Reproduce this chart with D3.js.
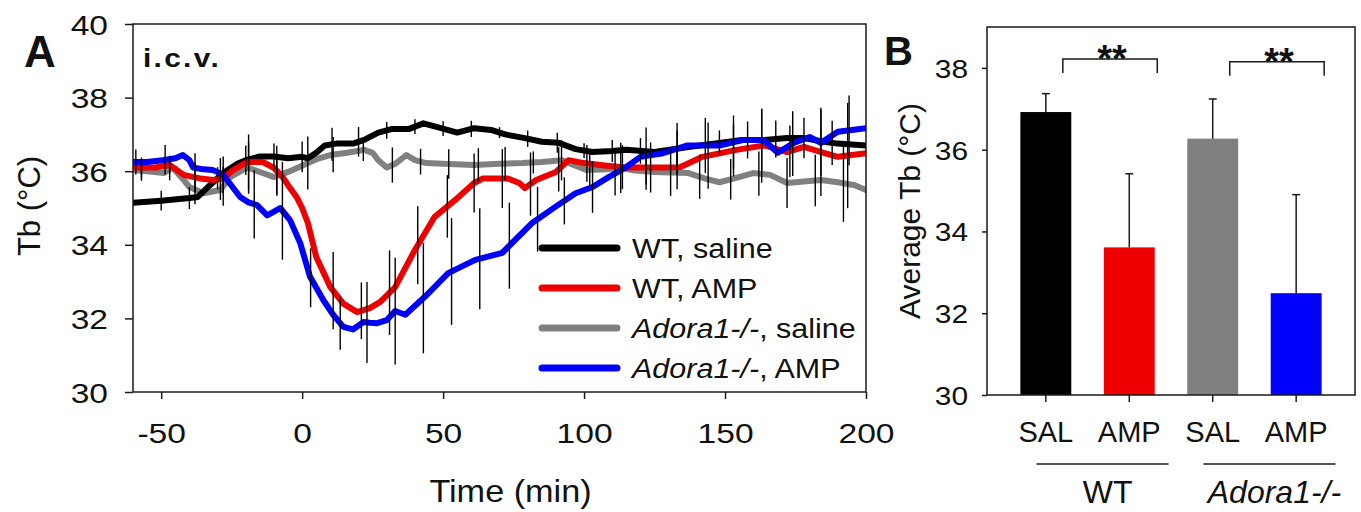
<!DOCTYPE html>
<html>
<head>
<meta charset="utf-8">
<script src="https://cdn.jsdelivr.net/npm/d3@7"></script>
<style>
  body { margin: 0; background: #fff; }
  svg text { font-family: "Liberation Sans", Arial, Helvetica, sans-serif; fill: #111; }
</style>
</head>
<body>
<svg id="fig" width="1361" height="512"></svg>
<script>

// Panel A: body temperature time course, [time (min), Tb (degC)]
var wt_saline = [[-60,35.14],[-50,35.2],[-40,35.27],[-37,35.3],[-33,35.6],[-28,35.95],[-23,36.2],[-20,36.3],
  [-15,36.4],[-10,36.4],[-5,36.35],[0,36.39],[2,36.35],[5,36.5],[8,36.7],[12,36.75],[18,36.75],[22,36.85],
  [27,37.05],[32,37.15],[38,37.15],[43,37.3],[48,37.2],[55,37.05],[61,37.17],[67,37.12],[72,37.0],[79,36.9],
  [85,36.8],[91,36.77],[97,36.6],[103,36.52],[110,36.55],[115,36.58],[125,36.52],[137,36.66],[148,36.77],
  [156,36.85],[164,36.85],[172,36.9],[178,36.9],[185,36.8],[190,36.75],[200,36.7]];

var wt_amp = [[-60,36.1],[-52,36.1],[-47,36.17],[-42,35.9],[-36,35.8],[-31.6,35.76],[-28,35.8],[-24.5,36.03],
  [-19.5,36.25],[-14,36.25],[-10,36.09],[-7,35.85],[-5,35.62],[-2,35.3],[0,35.0],[2,34.6],[5,33.67],[10,32.85],
  [14.6,32.4],[19.5,32.17],[24,32.28],[27.7,32.45],[33,32.85],[40,33.86],[47,34.76],[54,35.2],[61,35.68],
  [64,35.8],[73,35.8],[77,35.68],[79,35.54],[83,35.76],[90,35.98],[94.5,36.3],[100,36.22],[108,36.15],
  [115,36.1],[125,36.1],[134,36.11],[142,36.39],[154,36.58],[164,36.7],[172,36.52],[178,36.66],[185,36.5],
  [190,36.39],[200,36.49]];

var ko_saline = [[-60,36.03],[-55,36.0],[-49,35.95],[-46,36.1],[-43,35.85],[-40,35.57],[-35,35.4],[-29,35.49],
  [-25.6,35.84],[-19.5,36.1],[-14,35.95],[-10,35.84],[-5,35.98],[0,36.15],[2,36.22],[6,36.35],[10,36.44],
  [16,36.5],[22,36.58],[25,36.5],[27,36.3],[30,36.1],[33,36.2],[37,36.44],[40,36.3],[44,36.22],[50,36.2],
  [61,36.17],[70,36.2],[78,36.22],[85,36.25],[92,36.3],[97,36.15],[101,36.03],[108,36.05],[113,36.09],
  [118,36.02],[125,35.98],[137,35.95],[143,35.8],[148,35.7],[153,35.8],[160,35.95],[166,35.9],[172,35.68],
  [178,35.72],[184,35.76],[190,35.7],[196,35.62],[200,35.49]];

var ko_amp = [[-60,36.25],[-55,36.25],[-49.4,36.3],[-45,36.35],[-42.3,36.44],[-40,36.3],[-38.7,36.1],[-35,36.05],
  [-31.6,36.03],[-28,35.9],[-26.6,35.76],[-22,35.3],[-19,35.15],[-16,35.08],[-12.4,34.8],[-10,34.9],[-7.8,35.0],
  [-4.3,34.67],[-0.7,34.05],[2.8,33.13],[7.5,32.5],[11,32.1],[14.6,31.77],[18,31.7],[21.7,31.9],[24,31.88],
  [26.6,31.87],[30,31.95],[33,32.2],[36.6,32.1],[43.7,32.6],[51.8,33.23],[61.4,33.59],[71,33.78],[73,33.94],
  [81.7,34.6],[89.8,35.03],[97,35.4],[103,35.57],[108.7,35.84],[114.7,36.1],[120,36.39],[128,36.49],
  [136.7,36.7],[148.4,36.7],[156.6,36.85],[163.7,36.85],[168.7,36.5],[174.4,36.77],[180,36.93],[184,36.77],
  [190,37.07],[200,37.17]];

// error bars, [time (min), SEM (degC)]
var wt_saline_err = [[-50,0.27],[-40,0.3],[-30,0.3],[-20,0.4],[-10,0.35],[0,0.42],[10.6,0.45],[20,0.4],
  [30,0.23],[40,0.2],[50,0.2],[60,0.22],[70,0.15],[80,0.22],[90.5,0.27],[100,0.2],[110,0.3],[120,0.35],
  [133,0.5],[148,0.34],[158,0.5],[168,0.5],[178,0.55],[188,0.6]];
var wt_amp_err = [[-57,0.27],[-47,0.25],[-38,0.4],[-29,0.57],[-19,0.75],[-9,0.68],[11,1.05],[21,0.77],
  [31,1.15],[41,1.06],[51.5,0.85],[61,0.8],[71,0.8],[81,0.86],[91,0.6],[101,0.5],[113.6,0.6],[123.6,0.68],
  [133,0.6],[144,0.9],[153,0.7],[163,1.0],[173,0.7],[184,1.2],[193.5,1.43]];
var ko_saline_err = [[-57,0.27],[-47,0.3],[-38,0.4],[-28,0.53],[-19,0.7],[-9,0.5],[2,0.72],[11,0.48],
  [21.7,0.3],[32,0.48],[42,0.35],[52,0.4],[62.5,0.45],[72,0.45],[82,0.3],[92,0.55],[102,0.45],[113,0.68],
  [122,0.5],[130.7,0.64],[141,0.6],[152,0.55],[162,0.6],[172,0.68],[182,0.7],[192,1.05]];
var ko_amp_err = [[-59,0.34],[-48.6,0.4],[-38,0.4],[-28,0.5],[-17,0.93],[-7,1.33],[3,0.8],[13.5,0.72],
  [23,1.1],[33,1.45],[43,1.5],[53,1.45],[63,1.37],[73.5,1.17],[83.5,0.88],[93,0.64],[103,0.7],[111,0.6],
  [122,0.77],[133,0.7],[143,0.75],[153,0.73],[163,0.85],[174,0.88],[184,0.9],[194,0.95]];

var series_names = ['WT, saline', 'WT, AMP', 'Adora1-/-, saline', 'Adora1-/-, AMP'];
var x_ticks_a = [-50, 0, 50, 100, 150, 200];
var y_ticks_a = [30, 32, 34, 36, 38, 40];

// Panel B: average Tb
var bar_group = ['WT', 'WT', 'Adora1-/-', 'Adora1-/-'];
var bar_treat = ['SAL', 'AMP', 'SAL', 'AMP'];
var bar_mean = [36.92, 33.61, 36.27, 32.49];
var bar_err = [0.45, 1.80, 0.97, 2.41];
var y_ticks_b = [30, 32, 34, 36, 38];
var sig_pairs = [[0, 1], [2, 3]];
var sig_level = [38.22, 38.15];
var sig_text = ['**', '**'];

var series_colors = ['#000000', '#ee0000', '#808080', '#0000ff'];
var ink = '#1a1a1a';

var svg = d3.select('#fig');
svg.append('rect').attr('width', 1361).attr('height', 512).attr('fill', '#fff');

function value_at(data, t){
  var i = d3.bisector(function(d){ return d[0]; }).left(data, t);
  if (i <= 0) return data[0][1];
  if (i >= data.length) return data[data.length - 1][1];
  var a = data[i - 1], b = data[i];
  return a[1] + (b[1] - a[1]) * (t - a[0]) / (b[0] - a[0]);
}

function is_ko(name){ return name.indexOf('Adora1-/-') === 0; }

////////////////////////////////////////
// Panel A
////////////////////////////////////////
var x_a = d3.scaleLinear().domain([-60, 200]).range([133, 866]);
var y_a = d3.scaleLinear().domain([30, 40]).range([392, 24]);

var panel_a = svg.append('g').classed('panel-a', true);

var series = [
  {name: series_names[0], data: wt_saline, err: wt_saline_err, color: series_colors[0]},
  {name: series_names[1], data: wt_amp, err: wt_amp_err, color: series_colors[1]},
  {name: series_names[2], data: ko_saline, err: ko_saline_err, color: series_colors[2]},
  {name: series_names[3], data: ko_amp, err: ko_amp_err, color: series_colors[3]}
];
// drawing order: grey, black, red, blue
var draw_order = [series[2], series[0], series[1], series[3]];

panel_a.append('clipPath').attr('id', 'clip-a')
  .append('rect')
  .attr('x', x_a.range()[0]).attr('y', y_a.range()[1])
  .attr('width', x_a.range()[1] - x_a.range()[0])
  .attr('height', y_a.range()[0] - y_a.range()[1]);

var line_a = d3.line()
  .x(function(d){ return x_a(d[0]); })
  .y(function(d){ return y_a(d[1]); });

var plot_a = panel_a.append('g').attr('clip-path', 'url(#clip-a)');

plot_a.selectAll('path.trace')
  .data(draw_order)
  .enter()
  .append('path')
  .classed('trace', true)
  .attr('d', function(d){ return line_a(d.data); })
  .attr('fill', 'none')
  .attr('stroke', function(d){ return d.color; })
  .attr('stroke-width', 6)
  .attr('stroke-linejoin', 'round')
  .attr('stroke-linecap', 'round');

// error bars on top of the traces
draw_order.forEach(function(s){
  plot_a.selectAll(null)
    .data(s.err)
    .enter()
    .append('line')
    .attr('x1', function(d){ return x_a(d[0]); })
    .attr('x2', function(d){ return x_a(d[0]); })
    .attr('y1', function(d){ return y_a(value_at(s.data, d[0]) - d[1]); })
    .attr('y2', function(d){ return y_a(value_at(s.data, d[0]) + d[1]); })
    .attr('stroke', '#000')
    .attr('stroke-width', 1.4);
});

// frame
panel_a.append('rect')
  .attr('x', x_a.range()[0]).attr('y', y_a.range()[1])
  .attr('width', x_a.range()[1] - x_a.range()[0])
  .attr('height', y_a.range()[0] - y_a.range()[1])
  .attr('fill', 'none')
  .attr('stroke', ink)
  .attr('stroke-width', 1.5);

var x_axis_a = panel_a.append('g')
  .attr('transform', 'translate(0,' + y_a.range()[0] + ')')
  .call(d3.axisBottom(x_a).tickValues(x_ticks_a).tickSize(7).tickSizeOuter(0).tickFormat(String));
var y_axis_a = panel_a.append('g')
  .attr('transform', 'translate(' + x_a.range()[0] + ',0)')
  .call(d3.axisLeft(y_a).tickValues(y_ticks_a).tickSize(8).tickSizeOuter(0).tickFormat(String));

[x_axis_a, y_axis_a].forEach(function(ax){
  ax.select('.domain').remove();
  ax.selectAll('.tick line').attr('stroke', ink).attr('stroke-width', 1.5);
  ax.selectAll('.tick text')
    .attr('fill', '#111')
    .style('font-family', '"Liberation Sans", Arial, sans-serif')
    .style('font-size', '28px');
});
x_axis_a.selectAll('.tick text')
  .attr('y', 51).attr('dy', 0)
  .attr('transform', 'scale(1.2,1)');
y_axis_a.selectAll('.tick text')
  .attr('x', -20.8).attr('dy', '0.36em')
  .attr('transform', 'scale(1.2,1)');

// axis titles
panel_a.append('text')
  .attr('transform', 'translate(' + ((x_a.range()[0] + x_a.range()[1]) / 2 + 11) + ',502) scale(1.07,1)')
  .attr('text-anchor', 'middle')
  .style('font-size', '32px')
  .text('Time (min)');

panel_a.append('text')
  .attr('transform', 'translate(40,' + ((y_a.range()[0] + y_a.range()[1]) / 2 - 2) + ') rotate(-90)')
  .attr('text-anchor', 'middle')
  .style('font-size', '31px')
  .text('Tb (\u00B0C)');

panel_a.append('text')
  .attr('x', 24).attr('y', 67)
  .style('font-size', '44px')
  .style('font-weight', 'bold')
  .text('A');

panel_a.append('text')
  .attr('transform', 'translate(143,67) scale(1.15,1)')
  .style('font-size', '26px')
  .style('font-weight', 'bold')
  .style('letter-spacing', '2px')
  .text('i.c.v.');

// legend
var legend = panel_a.append('g').classed('legend', true);
var legend_rows = legend.selectAll('g')
  .data(series)
  .enter()
  .append('g')
  .attr('transform', function(d, i){ return 'translate(542,' + (248 + i * 40) + ')'; });

legend_rows.append('line')
  .attr('x1', 0).attr('x2', 75)
  .attr('stroke', function(d){ return d.color; })
  .attr('stroke-width', 7)
  .attr('stroke-linecap', 'round');

var legend_text = legend_rows.append('text')
  .attr('transform', 'translate(90,10) scale(1.09,1)')
  .style('font-size', '28px');
legend_text.append('tspan')
  .style('font-style', function(d){ return is_ko(d.name) ? 'italic' : 'normal'; })
  .text(function(d){ return is_ko(d.name) ? 'Adora1-/-' : d.name; });
legend_text.append('tspan')
  .text(function(d){ return is_ko(d.name) ? d.name.slice('Adora1-/-'.length) : ''; });

////////////////////////////////////////
// Panel B
////////////////////////////////////////
var bar_idx = bar_mean.map(function(d, i){ return i; });
var x_b = d3.scaleBand().domain(bar_idx).range([987, 1355]).paddingInner(0.39).paddingOuter(0.40);
var y_b = d3.scaleLinear().domain([30, 39]).range([395, 27]);
var cx = function(i){ return x_b(i) + x_b.bandwidth() / 2; };

var panel_b = svg.append('g').classed('panel-b', true);

panel_b.selectAll('rect.bar')
  .data(bar_idx)
  .enter()
  .append('rect')
  .classed('bar', true)
  .attr('x', function(i){ return x_b(i); })
  .attr('width', x_b.bandwidth())
  .attr('y', function(i){ return y_b(bar_mean[i]); })
  .attr('height', function(i){ return y_b(30) - y_b(bar_mean[i]); })
  .attr('fill', function(i){ return series_colors[i]; });

// upper error bars with caps
var err_b = panel_b.selectAll('g.err')
  .data(bar_idx)
  .enter()
  .append('g')
  .classed('err', true);
err_b.append('line')
  .attr('x1', cx).attr('x2', cx)
  .attr('y1', function(i){ return y_b(bar_mean[i]); })
  .attr('y2', function(i){ return y_b(bar_mean[i] + bar_err[i]); })
  .attr('stroke', ink).attr('stroke-width', 1.5);
err_b.append('line')
  .attr('x1', function(i){ return cx(i) - 4; })
  .attr('x2', function(i){ return cx(i) + 4; })
  .attr('y1', function(i){ return y_b(bar_mean[i] + bar_err[i]); })
  .attr('y2', function(i){ return y_b(bar_mean[i] + bar_err[i]); })
  .attr('stroke', ink).attr('stroke-width', 1.5);

// frame
panel_b.append('rect')
  .attr('x', 987).attr('y', y_b.range()[1])
  .attr('width', 1355 - 987)
  .attr('height', y_b.range()[0] - y_b.range()[1])
  .attr('fill', 'none')
  .attr('stroke', ink)
  .attr('stroke-width', 1.5);

var x_axis_b = panel_b.append('g')
  .attr('transform', 'translate(0,' + y_b.range()[0] + ')')
  .call(d3.axisBottom(x_b).tickSize(7).tickSizeOuter(0).tickFormat(function(i){ return bar_treat[i]; }));
var y_axis_b = panel_b.append('g')
  .attr('transform', 'translate(987,0)')
  .call(d3.axisLeft(y_b).tickValues(y_ticks_b).tickSize(5).tickSizeOuter(0).tickFormat(String));

[x_axis_b, y_axis_b].forEach(function(ax){
  ax.select('.domain').remove();
  ax.selectAll('.tick line').attr('stroke', ink).attr('stroke-width', 1.5);
  ax.selectAll('.tick text')
    .attr('fill', '#111')
    .style('font-family', '"Liberation Sans", Arial, sans-serif');
});
x_axis_b.selectAll('.tick text')
  .style('font-size', '29px')
  .attr('y', 47).attr('dy', 0);
y_axis_b.selectAll('.tick text')
  .style('font-size', '26px')
  .attr('x', -16.5).attr('dy', '0.36em')
  .attr('transform', 'scale(1.15,1)');

// significance brackets
sig_pairs.forEach(function(p, k){
  var x1 = cx(p[0]) + 17, x2 = cx(p[1]) + 28, yy = y_b(sig_level[k]);
  panel_b.append('path')
    .attr('d', 'M' + x1 + ',' + (yy + 14) + 'V' + yy + 'H' + x2 + 'V' + (yy + 14))
    .attr('fill', 'none')
    .attr('stroke', ink)
    .attr('stroke-width', 1.5);
  panel_b.append('text')
    .attr('x', (x1 + x2) / 2 + 2)
    .attr('y', yy + 13)
    .attr('text-anchor', 'middle')
    .style('font-size', '38px')
    .style('font-weight', 'bold')
    .text(sig_text[k]);
});

// genotype groups under the axis
var groups = d3.groups(bar_idx, function(i){ return bar_group[i]; });
groups.forEach(function(g){
  var idx = g[1];
  var mid = (cx(idx[0]) + cx(idx[idx.length - 1])) / 2 + 15;
  panel_b.append('line')
    .attr('x1', mid - 66).attr('x2', mid + 66)
    .attr('y1', 464).attr('y2', 464)
    .attr('stroke', ink).attr('stroke-width', 1.5);
  panel_b.append('text')
    .attr('x', mid + 5).attr('y', 503)
    .attr('text-anchor', 'middle')
    .style('font-size', '32px')
    .style('font-style', g[0] === 'WT' ? 'normal' : 'italic')
    .text(g[0]);
});

panel_b.append('text')
  .attr('transform', 'translate(920,' + ((y_b.range()[0] + y_b.range()[1]) / 2) + ') rotate(-90)')
  .attr('text-anchor', 'middle')
  .style('font-size', '30px')
  .text('Average Tb (\u00B0C)');

panel_b.append('text')
  .attr('x', 884).attr('y', 65)
  .style('font-size', '40px')
  .style('font-weight', 'bold')
  .text('B');

</script>
</body>
</html>
